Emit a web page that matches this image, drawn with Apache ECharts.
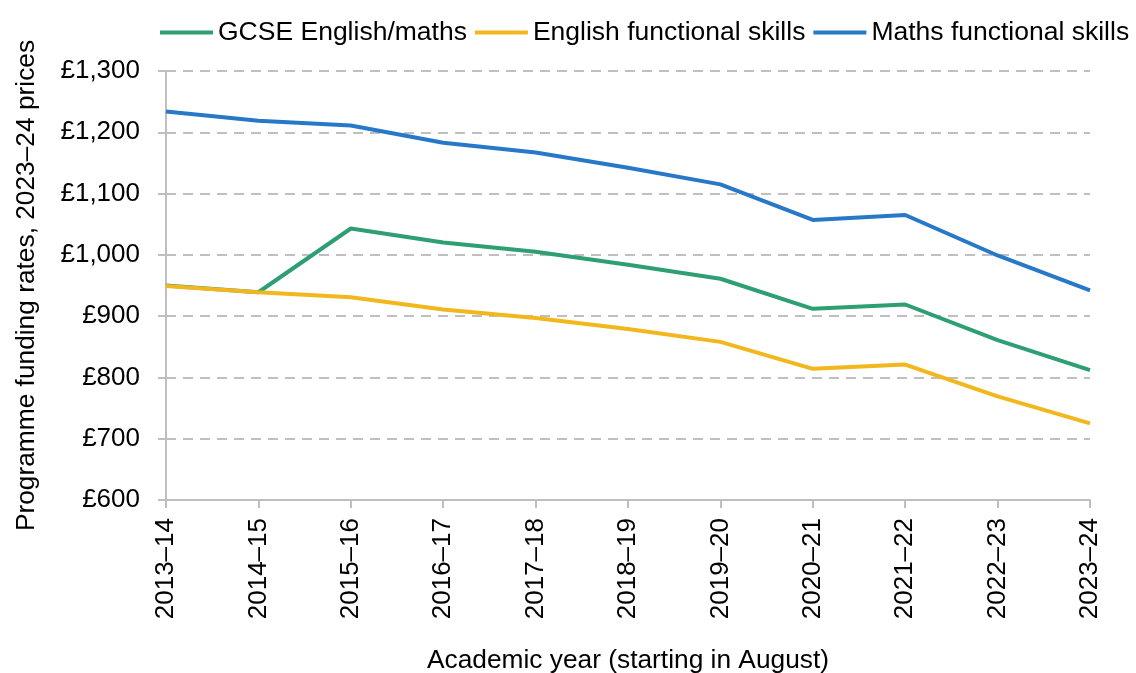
<!DOCTYPE html>
<html><head><meta charset="utf-8">
<script src="https://cdn.jsdelivr.net/npm/echarts@6/dist/echarts.min.js"></script>
<style>html,body{margin:0;padding:0;background:#fff}#c{width:1136px;height:673px}</style>
</head><body><div id="c"></div>
<script>
const categories = ['2013–14','2014–15','2015–16','2016–17','2017–18','2018–19','2019–20','2020–21','2021–22','2022–23','2023–24'];
const gcse = [950, 939, 1043, 1020, 1005, 984, 961, 912, 919, 861, 812];
const englishFS = [949, 939, 931, 911, 897, 879, 858, 814, 821, 769, 725];
const mathsFS = [1234, 1219, 1211, 1183, 1167, 1142, 1115, 1057, 1065, 999, 942];
const seriesNames = ['GCSE English/maths','English functional skills','Maths functional skills'];
const colors = ['#2e9e73','#f2b71c','#2878c8'];
const FONT = 'Liberation Sans, Arial, sans-serif';
const FS = 26;
const chart = echarts.init(document.getElementById('c'), null, {renderer:'canvas'});
const mk = (name, data, color) => ({
  name, type:'line', data, symbol:'none', smooth:false,
  lineStyle:{color, width:4}, itemStyle:{color}
});
chart.setOption({
  animation:false,
  textStyle:{fontFamily:FONT, color:'#000'},
  legend:{
    top:14, left:155, itemWidth:53, itemHeight:4, itemGap:8, icon:'rect',
    textStyle:{fontSize:26.5, color:'#000', fontFamily:FONT},
    data:seriesNames
  },
  grid:{left:166, right:46, top:71, bottom:173, containLabel:false, outerBoundsMode:'none'},
  xAxis:{
    type:'category', data:categories, boundaryGap:false,
    name:'Academic year (starting in August)', nameLocation:'middle', nameGap:148,
    nameTextStyle:{fontSize:26.3, color:'#000', fontFamily:FONT},
    axisLine:{lineStyle:{color:'#bfbfbf', width:2}},
    axisTick:{show:true, length:8, lineStyle:{color:'#bfbfbf', width:2}},
    axisLabel:{rotate:90, fontSize:FS, color:'#000', margin:18, fontFamily:FONT, interval:0},
    splitLine:{show:false}
  },
  yAxis:{
    type:'value', min:600, max:1300, interval:100,
    name:'Programme funding rates, 2023–24 prices', nameLocation:'middle', nameGap:126, nameRotate:90,
    nameTextStyle:{fontSize:26.3, color:'#000', fontFamily:FONT},
    axisLine:{show:true, lineStyle:{color:'#bfbfbf', width:2}},
    axisTick:{show:true, length:8, lineStyle:{color:'#bfbfbf', width:2}},
    axisLabel:{fontSize:FS, color:'#000', margin:26, fontFamily:FONT,
      formatter:v => '£' + v.toLocaleString('en-GB')},
    splitLine:{show:true, lineStyle:{color:'#bfbfbf', width:2, type:[10,7]}}
  },
  series:[mk(seriesNames[0], gcse, colors[0]), mk(seriesNames[1], englishFS, colors[1]), mk(seriesNames[2], mathsFS, colors[2])]
});
</script></body></html>
